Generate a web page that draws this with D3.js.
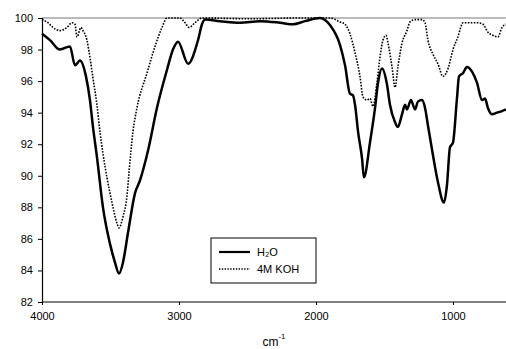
<!DOCTYPE html>
<html>
<head>
<meta charset="utf-8">
<script src="https://cdn.jsdelivr.net/npm/d3@7"></script>
<style>
  body { margin: 0; background: #fff; }
  text { font-family: "Liberation Sans", Arial, sans-serif; fill: #000; }
</style>
</head>
<body>
<svg id="chart" width="506" height="349"></svg>
<script>
// wavenumber (cm-1), with % transmittance
var h2oWave = [4000, 3942, 3869, 3796, 3759, 3723, 3679, 3650, 3628, 3599, 3555, 3504, 3467, 3438, 3409, 3372, 3321, 3285, 3226, 3161, 3088, 3044, 3007, 2934, 2861, 2832, 2810, 2701, 2555, 2409, 2263, 2168, 2080, 1971, 1898, 1825, 1788, 1752, 1730, 1715, 1693, 1664, 1650, 1606, 1569, 1547, 1518, 1482, 1460, 1423, 1402, 1372, 1350, 1336, 1307, 1277, 1256, 1226, 1204, 1183, 1146, 1110, 1066, 1044, 1022, 1000, 971, 956, 927, 898, 861, 825, 788, 766, 745, 715, 679, 642, 613];
var h2oT = [99.0, 98.6, 98.0, 98.2, 97.0, 97.3, 96.3, 94.8, 93.1, 91.2, 88.0, 85.7, 84.5, 83.8, 84.5, 86.4, 88.9, 89.7, 91.6, 94.3, 96.7, 98.0, 98.5, 97.1, 98.6, 99.6, 99.9, 99.8, 99.7, 99.8, 99.7, 99.6, 99.8, 100, 99.55, 98.3, 97.0, 95.2, 95.1, 94.5, 92.8, 91.1, 89.9, 92.1, 94.3, 95.9, 96.8, 95.8, 94.5, 93.4, 93.1, 93.9, 94.5, 94.2, 94.8, 94.2, 94.7, 94.8, 94.3, 93.2, 91.3, 89.6, 88.3, 89.4, 91.8, 92.1, 94.9, 96.3, 96.5, 96.9, 96.6, 95.9, 94.8, 94.9, 94.3, 93.9, 94.0, 94.1, 94.2];

var kohWave = [4000, 3956, 3920, 3869, 3818, 3781, 3759, 3745, 3715, 3701, 3672, 3650, 3628, 3599, 3577, 3555, 3526, 3489, 3453, 3438, 3409, 3380, 3365, 3336, 3307, 3234, 3175, 3124, 3088, 2993, 2956, 2927, 2883, 2832, 2482, 2117, 1898, 1825, 1788, 1752, 1715, 1679, 1657, 1628, 1606, 1584, 1555, 1533, 1511, 1489, 1474, 1445, 1423, 1402, 1372, 1336, 1314, 1277, 1226, 1204, 1183, 1146, 1110, 1073, 1036, 1000, 964, 927, 876, 825, 781, 745, 708, 672, 642, 613];
var kohT = [99.9, 99.7, 99.4, 99.2, 99.4, 99.7, 99.6, 98.8, 99.4, 99.2, 98.6, 97.5, 96.2, 94.5, 92.8, 91.4, 89.9, 88.3, 87.0, 86.7, 87.4, 88.7, 90.2, 92.8, 94.3, 96.5, 98.2, 99.4, 100, 100, 99.7, 99.4, 99.7, 100, 99.95, 100, 100, 99.75, 99.6, 99.0, 97.8, 96.3, 95.0, 94.8, 94.9, 94.4, 95.9, 97.5, 98.6, 98.9, 98.4, 96.9, 95.6, 96.9, 98.4, 99.2, 99.75, 99.9, 99.9, 99.7, 98.6, 97.7, 97.1, 96.3, 96.8, 98.0, 98.8, 99.7, 99.7, 99.7, 99.6, 99.1, 98.9, 98.8, 99.4, 99.6];

var xTicks = [4000, 3000, 2000, 1000];
var yTicks = [82, 84, 86, 88, 90, 92, 94, 96, 98, 100];
var seriesNames = ["H\u2082O", "4M KOH"];

var svg = d3.select("#chart");
var plotL = 42, plotR = 506, plotT = 18, plotB = 302;

var x = d3.scaleLinear().domain([4000, 613]).range([plotL, plotR]);
var y = d3.scaleLinear().domain([82, 100]).range([plotB, plotT]);

// frame top line
svg.append("line")
    .attr("x1", plotL).attr("x2", plotR)
    .attr("y1", plotT).attr("y2", plotT)
    .attr("stroke", "#777").attr("stroke-width", 1);

var yAxis = svg.append("g")
    .attr("transform", "translate(" + plotL + ",0)")
    .call(d3.axisLeft(y).tickValues(yTicks).tickSize(4).tickPadding(5).tickFormat(d3.format("d")));
var xAxis = svg.append("g")
    .attr("transform", "translate(0," + plotB + ")")
    .call(d3.axisBottom(x).tickValues(xTicks).tickSize(3).tickPadding(7).tickFormat(d3.format("d")));

[yAxis, xAxis].forEach(function (g) {
    g.select(".domain").attr("stroke", "#000").attr("stroke-width", 1.2);
    g.selectAll(".tick line").attr("stroke", "#000");
    g.selectAll("text").attr("font-size", 11).attr("font-family", "Liberation Sans, Arial, sans-serif");
});
xAxis.select(".domain").attr("d", "M" + plotL + ",0H" + plotR);

var line = d3.line()
    .x(function (d) { return x(d[0]); })
    .y(function (d) { return y(d[1]); })
    .curve(d3.curveMonotoneX);

svg.append("path")
    .datum(d3.zip(kohWave, kohT))
    .attr("d", line)
    .attr("fill", "none")
    .attr("stroke", "#000")
    .attr("stroke-width", 1.6)
    .attr("stroke-dasharray", "1.6 1.4");

svg.append("path")
    .datum(d3.zip(h2oWave, h2oT))
    .attr("d", line)
    .attr("fill", "none")
    .attr("stroke", "#000")
    .attr("stroke-width", 2.5)
    .attr("stroke-linejoin", "round");

// axis title
var title = svg.append("text")
    .attr("x", 274).attr("y", 346)
    .attr("text-anchor", "middle")
    .attr("font-size", 12);
title.append("tspan").text("cm");
title.append("tspan").attr("dy", -7).attr("font-size", 8).text("-1");

// legend
var lg = svg.append("g").attr("transform", "translate(211,238)");
lg.append("rect")
    .attr("width", 105).attr("height", 45)
    .attr("fill", "#fff").attr("stroke", "#000").attr("stroke-width", 1);
var styles = [{ w: 2.2, dash: null }, { w: 1.4, dash: "1.4 1.4" }];
seriesNames.forEach(function (name, i) {
    var yy = 14 + i * 17;
    lg.append("line")
        .attr("x1", 8).attr("x2", 39)
        .attr("y1", yy).attr("y2", yy)
        .attr("stroke", "#000")
        .attr("stroke-width", styles[i].w)
        .attr("stroke-dasharray", styles[i].dash);
    lg.append("text")
        .attr("x", 46).attr("y", yy + 4)
        .attr("font-size", 11)
        .text(name);
});
</script>
</body>
</html>
